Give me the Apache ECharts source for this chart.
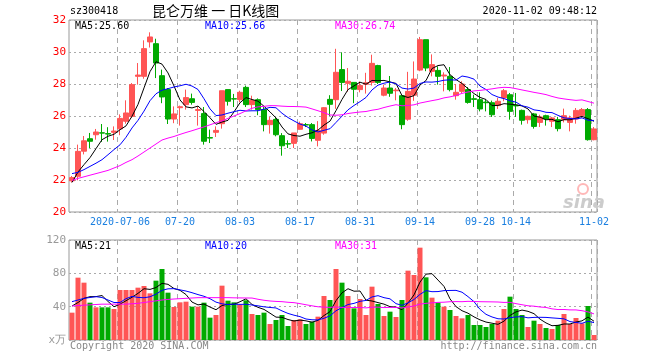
<!DOCTYPE html>
<html><head><meta charset="utf-8">
<script src="https://cdn.jsdelivr.net/npm/echarts@6/dist/echarts.min.js"></script>
<style>html,body{margin:0;padding:0;background:#fff}#c{width:660px;height:360px}</style>
</head><body><div id="c"></div>
<script>
const dates = ['2020-06-22','2020-06-23','2020-06-24','2020-06-29','2020-06-30',
'2020-07-01','2020-07-02','2020-07-03','2020-07-06','2020-07-07','2020-07-08','2020-07-09','2020-07-10','2020-07-13','2020-07-14','2020-07-15','2020-07-16','2020-07-17','2020-07-20','2020-07-21','2020-07-22','2020-07-23','2020-07-24','2020-07-27','2020-07-28','2020-07-29','2020-07-30','2020-07-31',
'2020-08-03','2020-08-04','2020-08-05','2020-08-06','2020-08-07','2020-08-10','2020-08-11','2020-08-12','2020-08-13','2020-08-14','2020-08-17','2020-08-18','2020-08-19','2020-08-20','2020-08-21','2020-08-24','2020-08-25','2020-08-26','2020-08-27','2020-08-28','2020-08-31',
'2020-09-01','2020-09-02','2020-09-03','2020-09-04','2020-09-07','2020-09-08','2020-09-09','2020-09-10','2020-09-11','2020-09-14','2020-09-15','2020-09-16','2020-09-17','2020-09-18','2020-09-21','2020-09-22','2020-09-23','2020-09-24','2020-09-25','2020-09-28','2020-09-29','2020-09-30',
'2020-10-09','2020-10-12','2020-10-13','2020-10-14','2020-10-15','2020-10-16','2020-10-19','2020-10-20','2020-10-21','2020-10-22','2020-10-23','2020-10-26','2020-10-27','2020-10-28','2020-10-29','2020-10-30',
'2020-11-02'];

// open, close, low, high
const opens  = [21.95,22.23,23.80,24.58,24.83,24.95,24.90,24.98,25.20,25.67,25.98,28.48,28.48,30.63,30.52,28.52,27.65,25.81,26.52,26.71,27.08,26.35,26.15,24.65,24.98,25.52,27.65,27.08,27.02,27.79,26.71,27.02,26.40,25.46,25.79,24.77,24.27,24.29,25.17,25.46,25.46,24.48,24.93,27.04,27.02,28.90,28.04,28.10,27.65,27.98,28.10,29.15,27.30,27.75,27.58,27.27,25.80,27.30,28.87,30.77,28.79,28.85,28.50,28.48,27.27,27.54,27.65,27.08,27.02,26.87,26.83,26.65,27.13,27.33,26.67,26.35,25.77,26.13,25.60,26.02,25.67,25.77,25.77,25.60,25.81,26.02,26.40,24.52];
const closes = [22.15,23.79,24.45,24.42,25.00,24.93,24.87,25.06,25.85,26.19,27.96,28.56,30.21,30.94,29.31,27.19,25.81,26.13,26.58,27.15,26.85,26.40,24.42,24.62,25.10,27.58,26.92,27.06,27.48,26.71,26.98,26.40,25.46,25.73,24.83,24.14,24.25,24.94,25.52,25.44,24.60,25.10,26.52,26.73,28.73,28.10,28.17,27.67,27.90,28.08,29.29,28.10,27.75,27.42,27.62,25.46,27.54,28.31,30.77,29.00,29.21,28.48,28.56,27.65,27.48,28.00,26.85,27.04,26.44,26.83,26.08,26.92,27.58,26.29,26.63,25.73,25.98,25.35,25.94,25.81,25.88,25.21,26.02,25.88,26.35,26.40,24.52,25.19];
const lows   = [21.85,21.98,23.60,24.00,24.52,24.38,24.40,24.50,24.80,25.52,25.88,27.96,28.33,30.28,28.37,26.80,25.50,25.55,25.40,26.40,26.71,25.40,24.21,24.31,24.69,25.21,26.65,26.56,26.85,26.56,26.40,26.05,25.04,24.90,24.73,23.52,24.00,24.00,25.15,25.31,24.41,24.10,24.83,26.00,26.45,27.56,27.52,26.80,27.48,27.40,27.90,28.00,27.23,27.20,26.98,25.17,25.70,26.95,28.80,28.80,28.48,27.96,27.54,27.54,27.02,27.44,26.77,26.56,26.29,26.29,25.94,26.44,26.92,25.77,25.94,25.46,25.52,25.21,25.31,25.40,25.31,25.04,25.60,25.04,25.52,25.88,24.46,24.48];
const highs  = [22.25,24.21,24.75,24.94,25.19,25.50,25.30,25.35,26.10,26.98,28.06,29.31,30.73,31.23,30.83,28.90,27.75,26.60,26.65,27.65,27.40,26.60,26.56,25.15,25.35,27.58,27.65,27.38,27.58,27.90,27.27,27.10,26.56,25.94,25.94,24.93,24.48,24.94,25.65,25.56,25.56,25.68,26.56,27.30,30.20,29.98,29.00,28.10,28.16,28.70,29.83,29.20,27.96,28.50,27.75,27.27,28.76,29.41,30.94,30.77,29.85,29.10,28.73,29.06,28.00,28.17,27.81,27.33,27.48,27.02,26.96,27.13,27.69,27.44,27.44,26.40,26.02,26.19,26.08,26.08,25.94,25.94,26.46,26.02,26.50,26.50,26.50,25.31];

// volume (x万)
const volumes = [32.8,74.8,68.8,44.8,39.2,39.2,39.2,37.2,60,60,60,62.8,64.8,56,71.2,85.2,56.8,39.6,45.2,46,40,40,44.8,26.8,30,65.2,47.2,45.2,42,47.6,31.2,30,32.8,19.2,24,30,16.8,24,24.8,19.2,22,28,52.8,48,85.2,68.8,52.8,38,49.2,30,64,43.2,28.8,34,27.6,48,83.2,78,110.8,75.2,50.8,44.8,40,36,28.8,26,30,18,18,15.6,19.2,23.2,37.2,52,37.2,30,15.6,23.2,19.2,14.4,13.2,18,31.2,19.2,26.4,20,40.8,6];

const ma5Start = [21.85,22.5,22.96,23.4];
const ma10Start = [22.4,22.48,22.65,22.85,23.05,23.27,23.58,23.9,24.2];
const ma30Start = [21.98,22.1,22.2,22.3,22.4,22.5,22.6,22.75,22.9,23.1,23.27,23.5,23.75,24.0,24.25,24.5,24.62,24.72,24.85,24.97,25.08,25.2,25.32,25.45,25.58,25.7,25.85,26.0,26.15];
const vma5Start = [40.8,45,50,52];
const vma10Start = [46,48,50,51,52,51,48,45,45];
const vma30Start = [40.8,41.3,41.8,42.2,42.6,43,43,43,43,43,43.5,44,45,46,47,48,48.7,49.2,49.6,50,50.4,50.8,50.8,50.8,50.8,50.8,50.8,50.6,50.5];

const axisLabelDates = ['2020-07-06','2020-07-20','2020-08-03','2020-08-17','2020-08-31','2020-09-14','2020-09-28','2020-10-14','2020-11-02'];
const axisLabelTexts = ['2020-07-06','07-20','08-03','08-17','08-31','09-14','09-28','10-14','11-02'];
const priceTicks = {min:20, max:32, interval:2};
const volTicks = {min:0, max:120, interval:40};

const headerCode = 'sz300418';
const headerTitle = '昆仑万维 一 日K线图';
const headerTime = '2020-11-02 09:48:12';
const maLabels = ['MA5:25.60','MA10:25.66','MA30:26.74'];
const vmaLabels = ['MA5:21','MA10:20','MA30:31'];

function ma(arr, n, start){
  return arr.map((v,i)=>{
    if(i < n-1) return start[i];
    let s=0; for(let j=i-n+1;j<=i;j++) s+=arr[j];
    return +(s/n).toFixed(3);
  });
}
const UP='#ff5555', DOWN='#00aa00';
const MONO='"DejaVu Sans Mono", monospace';
const candles = dates.map((d,i)=>[opens[i],closes[i],lows[i],highs[i]]);
const volData = volumes.map((v,i)=>({value:v,itemStyle:{color: closes[i]>=opens[i]?UP:DOWN}}));
const labelIdx = axisLabelDates.map(d=>dates.indexOf(d));

const chart = echarts.init(document.getElementById('c'), null, {renderer:'canvas'});
const xBase = (gi)=>({
  type:'category', data:dates, gridIndex:gi, boundaryGap:true,
  axisLine:{show:false}, axisTick:{show:false},
  splitLine:{show:true, interval:(i)=>labelIdx.indexOf(i)>=0, lineStyle:{color:'#aaaaaa', type:[5,4], width:1}},
  axisLabel:{show: gi===0, interval:(i)=>labelIdx.indexOf(i)>=0, formatter:(v)=>{const k=axisLabelDates.indexOf(v);return k>=0?axisLabelTexts[k]:'';},
    color:'#1a7fe0', fontFamily:MONO, fontSize:10, margin:5}
});
const line = (name,data,color,xi,yi)=>({name,type:'line',data,xAxisIndex:xi,yAxisIndex:yi,showSymbol:false,symbol:'none',silent:true,
  lineStyle:{color,width:1},z:5});

chart.setOption({
  animation:false,
  backgroundColor:'#ffffff',
  grid:[
    {left:69, top:20, width:528, height:192, show:true, borderColor:'#999999', borderWidth:1},
    {left:69, top:240, width:528, height:100, show:true, borderColor:'#999999', borderWidth:1}
  ],
  xAxis:[xBase(0), xBase(1)],
  yAxis:[
    {type:'value', gridIndex:0, min:priceTicks.min, max:priceTicks.max, interval:priceTicks.interval,
     axisLine:{show:false}, axisTick:{show:false},
     axisLabel:{color:'#ff0000', fontFamily:MONO, fontSize:11, margin:3},
     splitLine:{lineStyle:{color:'#aaaaaa', type:[2,3]}}},
    {type:'value', gridIndex:1, min:volTicks.min, max:volTicks.max, interval:volTicks.interval,
     axisLine:{show:false}, axisTick:{show:false},
     axisLabel:{color:'#999999', fontFamily:MONO, fontSize:11, margin:3, formatter:(v)=>v===0?'x万':String(v)},
     splitLine:{lineStyle:{color:'#aaaaaa', type:[2,3]}}}
  ],
  series:[
    {type:'candlestick', data:candles, xAxisIndex:0, yAxisIndex:0, barWidth:5,
     itemStyle:{color:UP, color0:DOWN, borderColor:UP, borderColor0:DOWN, borderWidth:1}},
    line('MA5', ma(closes,5,ma5Start), '#000000',0,0),
    line('MA10', ma(closes,10,ma10Start), '#0000ff',0,0),
    line('MA30', ma(closes,30,ma30Start), '#ff00ff',0,0),
    {type:'bar', data:volData, xAxisIndex:1, yAxisIndex:1, barWidth:5},
    line('VMA5', ma(volumes,5,vma5Start), '#000000',1,1),
    line('VMA10', ma(volumes,10,vma10Start), '#0000ff',1,1),
    line('VMA30', ma(volumes,30,vma30Start), '#ff00ff',1,1)
  ],
  graphic:[
    {type:'text', left:70, top:6, style:{text:headerCode, font:'10px '+MONO, fill:'#000'}},
    {type:'text', left:152, top:4, style:{text:headerTitle, font:'14px "Noto Sans CJK SC", sans-serif', fill:'#000'}},
    {type:'text', right:63, top:6, style:{text:headerTime, font:'10px '+MONO, fill:'#000'}},
    {type:'text', left:75, top:21, style:{text:maLabels[0], font:'10px '+MONO, fill:'#000'}},
    {type:'text', left:205, top:21, style:{text:maLabels[1], font:'10px '+MONO, fill:'#0000ff'}},
    {type:'text', left:335, top:21, style:{text:maLabels[2], font:'10px '+MONO, fill:'#ff00ff'}},
    {type:'text', left:75, top:241, style:{text:vmaLabels[0], font:'10px '+MONO, fill:'#000'}},
    {type:'text', left:205, top:241, style:{text:vmaLabels[1], font:'10px '+MONO, fill:'#0000ff'}},
    {type:'text', left:335, top:241, style:{text:vmaLabels[2], font:'10px '+MONO, fill:'#ff00ff'}},
    {type:'text', left:70, top:341, style:{text:'Copyright 2020 SINA.COM', font:'10px '+MONO, fill:'#888888'}},
    {type:'text', right:63, top:341, style:{text:'http://finance.sina.com.cn', font:'10px '+MONO, fill:'#888888'}},
    {type:'circle', shape:{cx:583, cy:189, r:5}, style:{fill:'none', stroke:'#ffb8b8', lineWidth:2}, silent:true},
    {type:'text', left:563, top:194, style:{text:'sina', font:'italic bold 18px "DejaVu Sans", sans-serif', fill:'#cccccc'}, silent:true}
  ]
});
</script></body></html>
